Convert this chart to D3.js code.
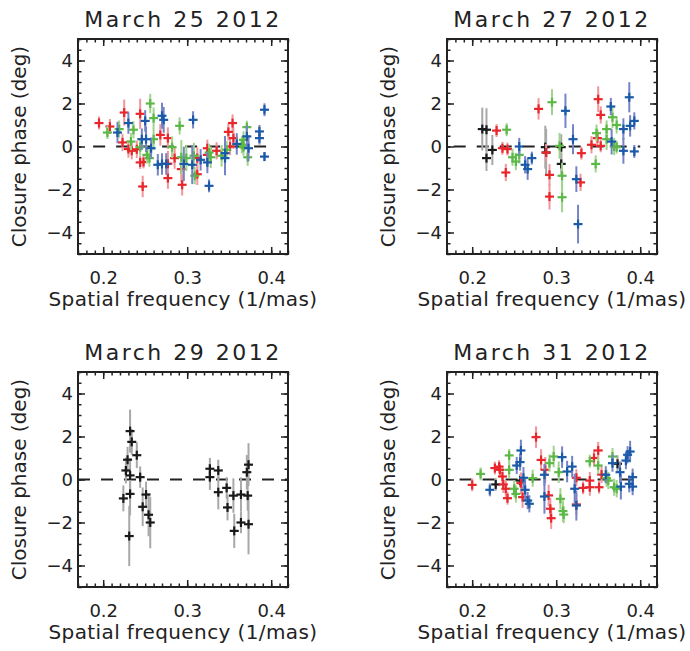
<!DOCTYPE html>
<html>
<head>
<meta charset="utf-8">
<script src="https://cdn.jsdelivr.net/npm/d3@7"></script>
<style>
  body { margin: 0; background: #fff; }
  text { font-family: "DejaVu Sans", sans-serif; fill: #222; }
</style>
</head>
<body>
<div id="chart"></div>
<script>
// each point: [spatial frequency, closure phase, error]
const mar25Red = [
  [0.195, 1.09, 0.3], [0.208, 0.93, 0.35], [0.225, 1.58, 0.6], [0.223, 0.19, 0.4], [0.230, -0.12, 0.4],
  [0.234, -0.2, 0.4], [0.240, -0.13, 0.4], [0.244, 1.52, 0.7], [0.244, -0.74, 0.3], [0.248, -0.72, 0.3],
  [0.247, -1.86, 0.5], [0.268, 0.54, 0.5], [0.277, 0.39, 0.5], [0.277, -0.8, 0.6], [0.277, -1.47, 0.5],
  [0.285, -0.54, 0.5], [0.293, -1.05, 0.6], [0.294, -1.78, 0.5], [0.312, -0.54, 0.5], [0.312, -1.29, 0.5],
  [0.324, -0.08, 0.4], [0.324, -0.39, 0.5], [0.335, -0.2, 0.4], [0.349, 0.68, 0.4], [0.354, 1.09, 0.4],
  [0.351, 0.0, 0.4], [0.355, 0.39, 0.5]
];
const mar25Green = [
  [0.205, 0.65, 0.3], [0.219, 0.81, 0.4], [0.236, 0.78, 0.4], [0.233, 0.23, 0.4], [0.244, -0.03, 0.4],
  [0.252, -0.39, 0.4], [0.255, -0.54, 0.4], [0.256, 2.0, 0.45], [0.260, 1.32, 0.5], [0.260, 0.34, 0.5],
  [0.282, -0.03, 0.5], [0.291, 0.96, 0.4], [0.293, -0.5, 0.8], [0.299, -0.54, 0.6], [0.308, -0.43, 0.6],
  [0.309, -1.36, 0.4], [0.326, -0.28, 0.4], [0.328, -0.5, 0.5], [0.341, -0.43, 0.5], [0.347, -0.15, 0.4],
  [0.365, 0.08, 0.4], [0.367, 0.31, 0.4], [0.371, 0.9, 0.3], [0.367, -0.03, 0.4], [0.372, -0.5, 0.4]
];
const mar25Blue = [
  [0.217, 0.65, 0.5], [0.230, 1.09, 0.5], [0.250, 1.19, 0.5], [0.246, 0.34, 0.5], [0.251, 0.34, 0.6],
  [0.257, -0.08, 0.5], [0.265, -0.85, 0.5], [0.270, 1.43, 0.6], [0.272, 1.24, 0.6], [0.270, -0.81, 0.5],
  [0.275, -0.81, 0.5], [0.296, -0.81, 0.8], [0.307, 1.24, 0.4], [0.306, -0.85, 0.9], [0.316, -0.62, 0.5],
  [0.326, -1.83, 0.3], [0.324, -0.74, 0.5], [0.345, -0.31, 0.8], [0.345, -0.54, 0.8], [0.359, 0.12, 0.5],
  [0.371, 0.47, 0.5], [0.373, -0.08, 0.6], [0.386, 0.7, 0.3], [0.386, 0.39, 0.3], [0.392, 1.71, 0.3],
  [0.392, -0.47, 0.2]
];

const mar27Black = [
  [0.212, 0.81, 1.0], [0.217, 0.78, 1.0], [0.217, -0.54, 0.6], [0.224, -0.16, 0.7],
  [0.287, -0.03, 1.0], [0.288, -0.28, 1.1], [0.306, -0.03, 0.6], [0.306, -0.81, 0.5]
];
const mar27Red = [
  [0.229, 0.74, 0.3], [0.236, -0.08, 0.3], [0.240, -1.21, 0.4], [0.242, -0.12, 0.3], [0.279, 1.75, 0.5],
  [0.288, -0.28, 0.4], [0.292, -1.32, 0.5], [0.292, -2.33, 0.6], [0.330, -0.31, 0.3], [0.329, -1.67, 0.4],
  [0.342, 0.08, 0.4], [0.349, 0.39, 0.4], [0.350, 2.2, 0.6], [0.353, 1.47, 0.4], [0.353, 0.03, 0.3]
];
const mar27Green = [
  [0.241, 0.78, 0.3], [0.248, -0.5, 0.4], [0.252, -0.7, 0.4], [0.256, -0.39, 0.4], [0.295, 2.06, 0.6],
  [0.304, 0.03, 0.6], [0.307, -1.36, 0.6], [0.307, -2.36, 0.7], [0.347, -0.81, 0.4], [0.348, 0.62, 0.4],
  [0.360, 0.34, 0.5], [0.360, 0.81, 0.4], [0.367, 1.36, 0.5], [0.372, 1.0, 0.4], [0.369, 0.0, 0.4],
  [0.372, -0.03, 0.3]
];
const mar27Blue = [
  [0.256, 0.0, 0.4], [0.263, -0.85, 0.4], [0.266, -1.05, 0.5], [0.271, -0.54, 0.3], [0.311, 1.66, 0.8],
  [0.320, 0.34, 0.7], [0.324, -1.52, 0.6], [0.326, -3.61, 0.9], [0.365, 1.86, 0.4], [0.366, 0.23, 0.6],
  [0.380, 0.81, 0.5], [0.380, -0.2, 0.6], [0.387, 2.29, 0.7], [0.388, 0.96, 0.5], [0.393, 1.19, 0.4],
  [0.393, -0.23, 0.3]
];

const mar29Black = [
  [0.224, -0.88, 0.6], [0.227, 0.42, 0.6], [0.229, 0.92, 0.6], [0.232, 2.25, 1.0], [0.232, 0.19, 0.8],
  [0.232, -0.67, 1.0], [0.231, -2.63, 1.4], [0.234, 1.75, 0.6], [0.240, 1.13, 0.6], [0.244, 0.11, 0.5],
  [0.247, -1.27, 0.9], [0.251, -0.7, 0.6], [0.254, -1.64, 1.0], [0.256, -2.0, 1.2], [0.327, 0.5, 0.5],
  [0.327, 0.11, 0.6], [0.337, 0.42, 0.5], [0.337, -0.59, 0.8], [0.347, -0.39, 0.5], [0.348, -1.3, 0.6],
  [0.355, -0.75, 0.8], [0.356, -2.39, 0.8], [0.364, -0.7, 0.8], [0.364, -2.0, 0.5], [0.371, 0.34, 0.8],
  [0.372, -0.75, 0.7], [0.373, 0.69, 1.0], [0.373, -2.08, 1.4]
];

const mar31Black = [[0.228, -0.23, 0.3], [0.257, -0.05, 0.3], [0.373, 0.73, 0.4]];
const mar31Red = [
  [0.200, -0.25, 0.3], [0.227, 0.53, 0.3], [0.232, 0.6, 0.3], [0.233, 0.45, 0.3], [0.236, 0.14, 0.4],
  [0.237, -0.23, 0.4], [0.240, -0.43, 0.4], [0.242, -0.87, 0.3], [0.258, -0.17, 0.5], [0.260, -0.82, 0.5],
  [0.276, 1.97, 0.5], [0.282, 0.91, 0.5], [0.287, 0.45, 0.6], [0.291, -0.74, 0.5], [0.293, -1.36, 0.5],
  [0.294, -1.8, 0.5], [0.324, 0.08, 0.4], [0.324, -1.16, 0.5], [0.332, -0.39, 0.3], [0.340, -0.36, 0.4],
  [0.340, -0.05, 0.4], [0.345, 1.0, 0.4], [0.350, 1.35, 0.4], [0.351, -0.36, 0.3], [0.354, 0.23, 0.4]
];
const mar31Green = [
  [0.210, 0.26, 0.3], [0.244, 1.12, 0.3], [0.244, 0.45, 0.4], [0.250, -0.43, 0.4], [0.252, -0.67, 0.4],
  [0.272, 0.06, 0.4], [0.292, 0.76, 0.4], [0.297, 1.07, 0.5], [0.303, 0.34, 0.5], [0.305, -0.9, 0.5],
  [0.308, -1.47, 0.5], [0.309, -1.63, 0.4], [0.340, 0.85, 0.3], [0.350, 0.65, 0.4], [0.360, 0.06, 0.4],
  [0.362, -0.05, 0.4], [0.367, 1.07, 0.4], [0.369, -0.36, 0.4], [0.372, -0.43, 0.4]
];
const mar31Blue = [
  [0.221, -0.48, 0.3], [0.253, 0.65, 0.4], [0.257, 0.81, 0.4], [0.258, 1.35, 0.5], [0.261, 0.08, 0.5],
  [0.263, -0.48, 0.5], [0.266, -0.98, 0.4], [0.268, -1.13, 0.4], [0.286, 0.22, 0.5], [0.286, -0.79, 0.8],
  [0.307, 1.04, 0.5], [0.313, 0.37, 0.5], [0.319, 0.6, 0.5], [0.322, -0.43, 0.7], [0.324, -1.21, 0.7],
  [0.359, 0.22, 0.4], [0.367, 0.76, 0.4], [0.376, 0.34, 0.5], [0.377, -0.33, 0.6], [0.383, 0.88, 0.4],
  [0.385, 1.15, 0.4], [0.388, 1.3, 0.5], [0.387, -0.2, 0.4], [0.391, 0.11, 0.4], [0.391, -0.33, 0.4]
];

const titles = ["March 25 2012", "March 27 2012", "March 29 2012", "March 31 2012"];
const zeroLineRange = [[0.188, 0.40], [0.178, 0.40], [0.17, 0.42], [0.185, 0.40]];
const xTicks = [0.2, 0.3, 0.4];
const yTicks = [-4, -2, 0, 2, 4];

const colors = {
  black: { mark: "#1a1a1a", err: "#a8a8a8" },
  red:   { mark: "#e8262b", err: "#f2959a" },
  green: { mark: "#5cb847", err: "#a0d48c" },
  blue:  { mark: "#1a5aa8", err: "#7584c6" }
};

const panels = [
  { series: [["red", mar25Red], ["green", mar25Green], ["blue", mar25Blue]] },
  { series: [["black", mar27Black], ["red", mar27Red], ["green", mar27Green], ["blue", mar27Blue]] },
  { series: [["black", mar29Black]] },
  { series: [["black", mar31Black], ["red", mar31Red], ["green", mar31Green], ["blue", mar31Blue]] }
];

const width = 690, height = 651;
const pw = 210, ph = 215;
const origins = [[78, 39], [447, 39], [78, 372], [447, 372]];

const svg = d3.select("#chart").append("svg")
  .attr("width", width)
  .attr("height", height);

const x = d3.scaleLinear().domain([0.17, 0.42]).range([0, pw]);
const y = d3.scaleLinear().domain([-5, 5]).range([ph, 0]);

const xMinor = d3.range(0.17, 0.4201, 0.01).map(d => +d.toFixed(2));
const yMinor = d3.range(-5, 5.01, 0.5);

panels.forEach((p, i) => {
  const g = svg.append("g")
    .attr("transform", `translate(${origins[i][0]},${origins[i][1]})`);

  // zero line
  g.append("line")
    .attr("x1", x(zeroLineRange[i][0]))
    .attr("x2", x(zeroLineRange[i][1]))
    .attr("y1", y(0)).attr("y2", y(0))
    .attr("stroke", "#222")
    .attr("stroke-width", 2)
    .attr("stroke-dasharray", "12,11");

  // data
  p.series.forEach(([c, pts]) => {
    const s = g.append("g");
    s.selectAll(".err").data(pts).enter().append("line")
      .attr("x1", d => x(d[0])).attr("x2", d => x(d[0]))
      .attr("y1", d => y(d[1] - d[2])).attr("y2", d => y(d[1] + d[2]))
      .attr("stroke", colors[c].err)
      .attr("stroke-width", 2);
    s.selectAll(".h").data(pts).enter().append("line")
      .attr("x1", d => x(d[0]) - 4.5).attr("x2", d => x(d[0]) + 4.5)
      .attr("y1", d => y(d[1])).attr("y2", d => y(d[1]))
      .attr("stroke", colors[c].mark)
      .attr("stroke-width", 2.2);
    s.selectAll(".v").data(pts).enter().append("line")
      .attr("x1", d => x(d[0])).attr("x2", d => x(d[0]))
      .attr("y1", d => y(d[1]) - 4.5).attr("y2", d => y(d[1]) + 4.5)
      .attr("stroke", colors[c].mark)
      .attr("stroke-width", 2.2);
  });

  // axes with inward ticks on all sides
  const axes = [
    [d3.axisBottom(x).tickValues(xTicks).tickSize(-7).tickPadding(17).tickFormat(d3.format(".1f")), `translate(0,${ph})`],
    [d3.axisBottom(x).tickValues(xMinor).tickSize(-3.5).tickFormat(""), `translate(0,${ph})`],
    [d3.axisTop(x).tickValues(xTicks).tickSize(-7).tickFormat(""), null],
    [d3.axisTop(x).tickValues(xMinor).tickSize(-3.5).tickFormat(""), null],
    [d3.axisLeft(y).tickValues(yTicks).tickSize(-7).tickPadding(5).tickFormat(d3.format("d")), null],
    [d3.axisLeft(y).tickValues(yMinor).tickSize(-3.5).tickFormat(""), null],
    [d3.axisRight(y).tickValues(yTicks).tickSize(-7).tickFormat(""), `translate(${pw},0)`],
    [d3.axisRight(y).tickValues(yMinor).tickSize(-3.5).tickFormat(""), `translate(${pw},0)`]
  ];
  axes.forEach(([ax, tr]) => {
    const a = g.append("g").call(ax.tickSizeOuter(0));
    if (tr) a.attr("transform", tr);
    a.select(".domain").remove();
    a.selectAll(".tick line").attr("stroke", "#222").attr("stroke-width", 1.5);
    a.selectAll("text")
      .style("font-family", "DejaVu Sans, sans-serif")
      .style("font-size", "18px")
      .attr("fill", "#222");
  });

  // frame
  g.append("rect")
    .attr("width", pw).attr("height", ph)
    .attr("fill", "none")
    .attr("stroke", "#222")
    .attr("stroke-width", 2);

  // title
  g.append("text")
    .attr("x", pw / 2)
    .attr("y", -12)
    .attr("text-anchor", "middle")
    .style("font-size", "22px")
    .style("letter-spacing", "2.5px")
    .style("white-space", "pre")
    .text(titles[i]);

  g.append("text")
    .attr("x", pw / 2)
    .attr("y", ph + 52)
    .attr("text-anchor", "middle")
    .style("font-size", "20px")
    .style("letter-spacing", "0.4px")
    .text("Spatial frequency (1/mas)");

  g.append("text")
    .attr("transform", `translate(${26 - origins[i][0] + (i % 2 ? 369 : 0)},${ph / 2}) rotate(-90)`)
    .attr("text-anchor", "middle")
    .style("font-size", "20px")
    .text("Closure phase (deg)");
});
</script>
</body>
</html>
